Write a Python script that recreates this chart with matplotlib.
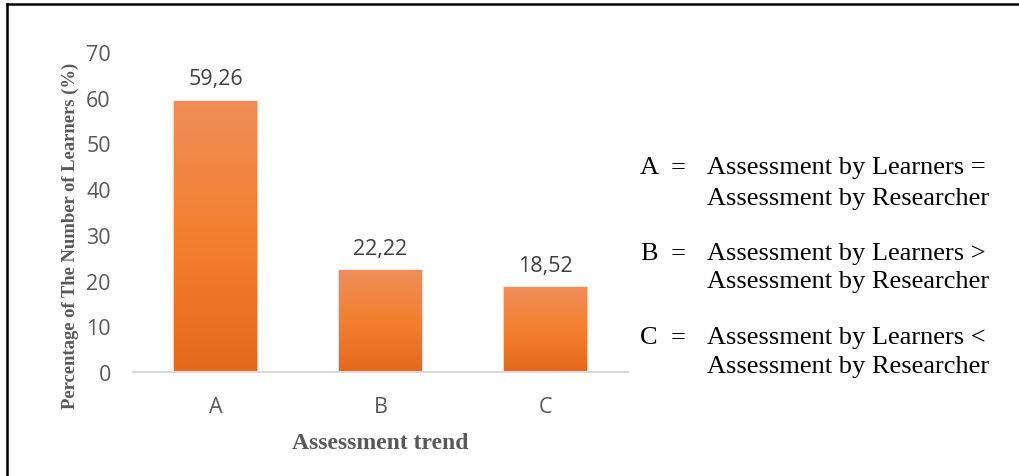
import numpy as np
import matplotlib
matplotlib.use('Agg')
import matplotlib.pyplot as plt
from matplotlib.colors import LinearSegmentedColormap
from matplotlib.lines import Line2D

categories = ['A', 'B', 'C']
percentages = [59.26, 22.22, 18.52]
value_labels = ['59,26', '22,22', '18,52']
legend_keys = ['A', 'B', 'C']
legend_lines = [
    ('Assessment by Learners =', 'Assessment by Researcher'),
    ('Assessment by Learners >', 'Assessment by Researcher'),
    ('Assessment by Learners <', 'Assessment by Researcher'),
]

TICK_GREY = '#595959'
LABEL_GREY = '#404040'
SERIF = 'Liberation Serif'
SANS = 'Open Sans'

fig = plt.figure(figsize=(10.2, 4.77), dpi=100)
fig.patch.set_facecolor('white')
ax = fig.add_axes([133 / 1020, 1 - 373 / 477, 495 / 1020, 320 / 477])

x = np.arange(len(categories))
bars = ax.bar(x, percentages, width=0.5, color='none', edgecolor='none', zorder=3)

# vertical gradient inside each bar, like the Excel fill
grad = LinearSegmentedColormap.from_list('bar', ['#E4691A', '#F4802F', '#EF8D59'])
ramp = np.linspace(0, 1, 256).reshape(-1, 1)
for b in bars:
    x0, y0 = b.get_x(), b.get_y()
    w, h = b.get_width(), b.get_height()
    # soft shadow
    for k, a in enumerate([0.07, 0.045, 0.025]):
        d = 0.005 * (k + 1)
        ax.add_patch(plt.Rectangle((x0 - d, y0), w + 2 * d, h + 0.12 * (k + 1),
                                   facecolor='black', alpha=a, edgecolor='none', zorder=2))
    im = ax.imshow(ramp, cmap=grad, origin='lower', aspect='auto',
                   extent=(x0, x0 + w, y0, y0 + h), zorder=3)
    im.set_clip_path(b)

for b, lab in zip(bars, value_labels):
    ax.annotate(lab, (b.get_x() + b.get_width() / 2, b.get_height()),
                xytext=(0, 8.5), textcoords='offset points', ha='center', va='bottom',
                fontsize=15.5, color=LABEL_GREY, family=SANS)

ax.set_xlim(-0.5, 2.5)
ax.set_ylim(0, 70)
ax.set_yticks(range(0, 71, 10))
ax.set_xticks(x)
ax.set_xticklabels(categories)
ax.tick_params(axis='both', length=0, labelsize=15.5, colors=TICK_GREY)
ax.tick_params(axis='y', pad=16)
ax.tick_params(axis='x', pad=17)
for t in ax.get_xticklabels() + ax.get_yticklabels():
    t.set_family(SANS)
for s in ['top', 'right', 'left']:
    ax.spines[s].set_visible(False)
ax.spines['bottom'].set_color('#D9D9D9')
ax.spines['bottom'].set_linewidth(1.5)
ax.spines['bottom'].set_zorder(4)

ax.set_xlabel('Assessment trend', family=SERIF, fontweight='bold', fontsize=17,
              color=TICK_GREY, labelpad=11)
fig.text(70 / 1020, 1 - 236 / 477, 'Percentage of The Number of Learners (%)',
         rotation=90, ha='center', va='center', family=SERIF, fontweight='bold',
         fontsize=13.4, color=TICK_GREY)

# key on the right
rows = [(168, 199), (254, 282), (338, 367)]
for key, (l1, l2), (y1, y2) in zip(legend_keys, legend_lines, rows):
    fig.text(640 / 1020, 1 - y1 / 477, key, ha='left', va='center',
             family=SERIF, fontsize=19, color='black')
    fig.text(671 / 1020, 1 - y1 / 477, '=', ha='left', va='center',
             family=SERIF, fontsize=19, color='black')
    fig.text(707 / 1020, 1 - y1 / 477, l1, ha='left', va='center',
             family=SERIF, fontsize=19, color='black')
    fig.text(707 / 1020, 1 - y2 / 477, l2, ha='left', va='center',
             family=SERIF, fontsize=19, color='black')

# frame lines (top and left only)
fig.add_artist(Line2D([7 / 1020, 1], [1 - 5 / 477, 1 - 5 / 477], color='black', lw=1.8,
                      transform=fig.transFigure))
fig.add_artist(Line2D([7 / 1020, 7 / 1020], [0, 1 - 5 / 477], color='black', lw=1.8,
                      transform=fig.transFigure))

fig.savefig('out.png', dpi=100, facecolor='white')
